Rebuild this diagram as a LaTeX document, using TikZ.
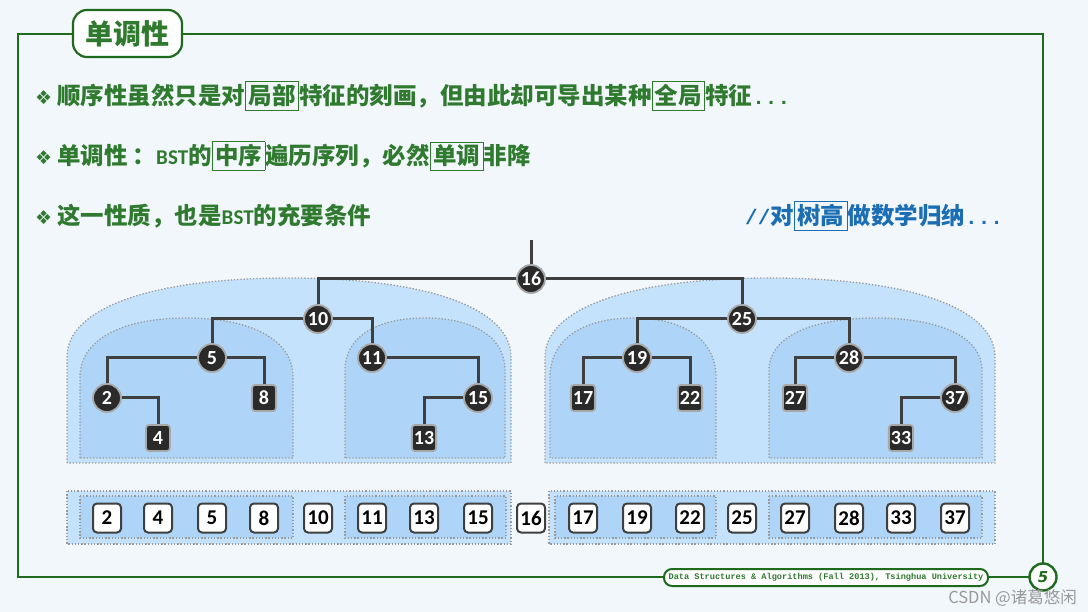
\documentclass[tikz,border=0pt]{standalone}
\usepackage{fontspec}
\setmainfont{Carlito}
\newfontfamily\cjk{Noto Sans CJK SC}
\newfontfamily\symf{DejaVu Sans}
\newfontfamily\monof{Liberation Mono}
\newfontfamily\numf{Carlito}
\definecolor{bg}{HTML}{F2F7FC}
\definecolor{fgreen}{HTML}{1E6B1E}
\definecolor{tgreen}{HTML}{2F7A2F}
\definecolor{tblue}{HTML}{1C6EB4}
\definecolor{blA}{HTML}{C4E2FB}
\definecolor{blB}{HTML}{AED5F8}
\definecolor{nd}{HTML}{2A2A2A}
\definecolor{ndb}{HTML}{A8A8A8}
\definecolor{dotc}{HTML}{9A9A9A}
\newcommand\gkw[1]{{\setlength\fboxsep{2.5pt}\setlength\fboxrule{0.9pt}\fcolorbox{tgreen}{bg}{#1}}}
\newcommand\bkw[1]{{\setlength\fboxsep{2.5pt}\setlength\fboxrule{0.9pt}\fcolorbox{tblue}{bg}{#1}}}
\newcommand\bul{{\symf\fontsize{19}{19}\selectfont ❖}\hspace{5pt}}
\newcommand\bst{{\numf\bfseries\fontsize{21}{21}\selectfont BST}}
\newcommand\mdots{{\monof\bfseries\fontsize{21}{21}\selectfont ...}}
\newcommand\mydome[6]{%
  \path[#6] (#1,#3) -- (#1,#4)
   .. controls (#1,{#4-0.62*(#4-#5)}) and ({#1+0.38*(#2-#1)/2},#5) .. ({(#1+#2)/2},#5)
   .. controls ({#2-0.38*(#2-#1)/2},#5) and (#2,{#4-0.62*(#4-#5)}) .. (#2,#4)
   -- (#2,#3) -- cycle;}
\tikzset{
  dotb/.style={draw=dotc, line width=1.3pt, dash pattern=on 1.3pt off 1.9pt},
  outerA/.style={fill=blA, dotb},
  innerB/.style={fill=blB, dotb},
  edge/.style={draw=nd!90, line width=3pt},
  cn/.style={circle, fill=nd, draw=ndb, line width=1.8pt, minimum size=28pt, inner sep=0pt,
    text=white, font=\numf\bfseries\fontsize{20}{20}\selectfont},
  sn/.style={rectangle, rounded corners=3pt, fill=nd, draw=ndb, line width=1.8pt,
    minimum width=24pt, minimum height=26pt, inner sep=2pt,
    text=white, font=\numf\bfseries\fontsize{20}{20}\selectfont},
  qn/.style={rectangle, rounded corners=4pt, fill=white, draw=nd!90, line width=2pt,
    minimum width=28pt, minimum height=29pt, inner sep=1.5pt,
    text=black, font=\numf\bfseries\fontsize{21}{21}\selectfont},
  txtg/.style={anchor=base west, inner sep=0pt, text=tgreen, font=\cjk\bfseries\fontsize{23.5}{26}\selectfont},
}
\begin{document}
\begin{tikzpicture}[x=1pt,y=-1pt]
\fill[bg] (0,0) rectangle (1088,612);
\useasboundingbox (0,0) rectangle (1088,612);

% frame
\draw[fgreen, line width=2.6pt] (18,34) rectangle (1043,577);
\node[draw=fgreen, line width=2.2pt, fill=white, rounded corners=14pt,
      minimum width=109pt, minimum height=47pt, inner sep=0pt,
      text=tgreen, font=\cjk\bfseries\fontsize{28}{30}\selectfont] (title) at (127.5,33.5) {单调性};

% text lines
\node[txtg] (l1) at (35,105) {\bul 顺序性虽然只是对\gkw{局部}特征的刻画，但由此却可导出某种\gkw{全局}特征\mdots};
\node[txtg] (l2) at (35,165) {\bul 单调性\hspace{5pt}：\bst 的\gkw{中序}遍历序列，必然\gkw{单调}非降};
\node[txtg] (l3) at (35,225) {\bul 这一性质，也是\bst 的充要条件};
\node[txtg, text=tblue] (l4) at (745,225) {{\monof\bfseries\fontsize{21}{21}\selectfont //}对\bkw{树高}做数学归纳\mdots};

% domes
\mydome{67}{511}{463}{357}{278}{outerA}
\mydome{80}{293}{458}{377}{318}{innerB}
\mydome{345}{505}{458}{370}{318}{innerB}
\mydome{545}{995}{463}{357}{278}{outerA}
\mydome{550}{716}{458}{377}{318}{innerB}
\mydome{769}{982}{458}{370}{318}{innerB}

% sequence bars
\path[outerA] (67,491) rectangle (511,544);
\path[innerB] (80,496) rectangle (293,538);
\path[innerB] (345,496) rectangle (506,538);
\path[outerA] (549,491) rectangle (995,544);
\path[innerB] (555,496) rectangle (716,538);
\path[innerB] (769,496) rectangle (982,538);

% tree nodes
\coordinate (stem) at (531,240);
\node[cn] (n16) at (531,279) {16};
\node[cn] (n10) at (318,319) {10};
\node[cn] (n25) at (742,319) {25};
\node[cn] (n5) at (212,358) {5};
\node[cn] (n11) at (372,358) {11};
\node[cn] (n19) at (637,358) {19};
\node[cn] (n28) at (849,358) {28};
\node[cn] (n2) at (107,398) {2};
\node[sn] (n8) at (264,398) {8};
\node[cn] (n15) at (478,398) {15};
\node[sn] (n17) at (583,398) {17};
\node[sn] (n22) at (690,398) {22};
\node[sn] (n27) at (795,398) {27};
\node[cn] (n37) at (955,398) {37};
\node[sn] (n4) at (158,438) {4};
\node[sn] (n13) at (424,438) {13};
\node[sn] (n33) at (901,438) {33};

\draw[edge] (stem) -- (n16);
\draw[edge] (n16) -| (n10);
\draw[edge] (n16) -| (n25);
\draw[edge] (n10) -| (n5);
\draw[edge] (n10) -| (n11);
\draw[edge] (n5) -| (n2);
\draw[edge] (n5) -| (n8);
\draw[edge] (n11) -| (n15);
\draw[edge] (n2) -| (n4);
\draw[edge] (n15) -| (n13);
\draw[edge] (n25) -| (n19);
\draw[edge] (n25) -| (n28);
\draw[edge] (n19) -| (n17);
\draw[edge] (n19) -| (n22);
\draw[edge] (n28) -| (n27);
\draw[edge] (n28) -| (n37);
\draw[edge] (n37) -| (n33);

% sequence
\foreach \v/\x in {2/107,4/158,5/212,8/264,10/318,11/372,13/424,15/478,16/531,17/583,19/637,22/690,25/742,27/795,28/849,33/901,37/955}
  \node[qn] (s\v) at (\x,518) {\v};

% footer
\node[draw=fgreen, line width=2pt, fill=white, rounded corners=8pt,
      minimum width=324pt, minimum height=17pt, inner sep=0pt,
      text=tgreen, font=\monof\bfseries\fontsize{8.6}{9}\selectfont] (foot) at (826,577.5)
      {Data Structures \& Algorithms (Fall 2013), Tsinghua University};
\node[circle, draw=fgreen, line width=2.4pt, fill=white, minimum size=27pt, inner sep=0pt,
      text=fgreen, font=\symf\bfseries\itshape\fontsize{15}{15}\selectfont] (pg) at (1043,577) {5};
\node[anchor=east, inner sep=0pt, text=black!40, font=\cjk\fontsize{16.5}{17}\selectfont] (wm) at (1077,598) {CSDN @诸葛悠闲};
\end{tikzpicture}
\end{document}
